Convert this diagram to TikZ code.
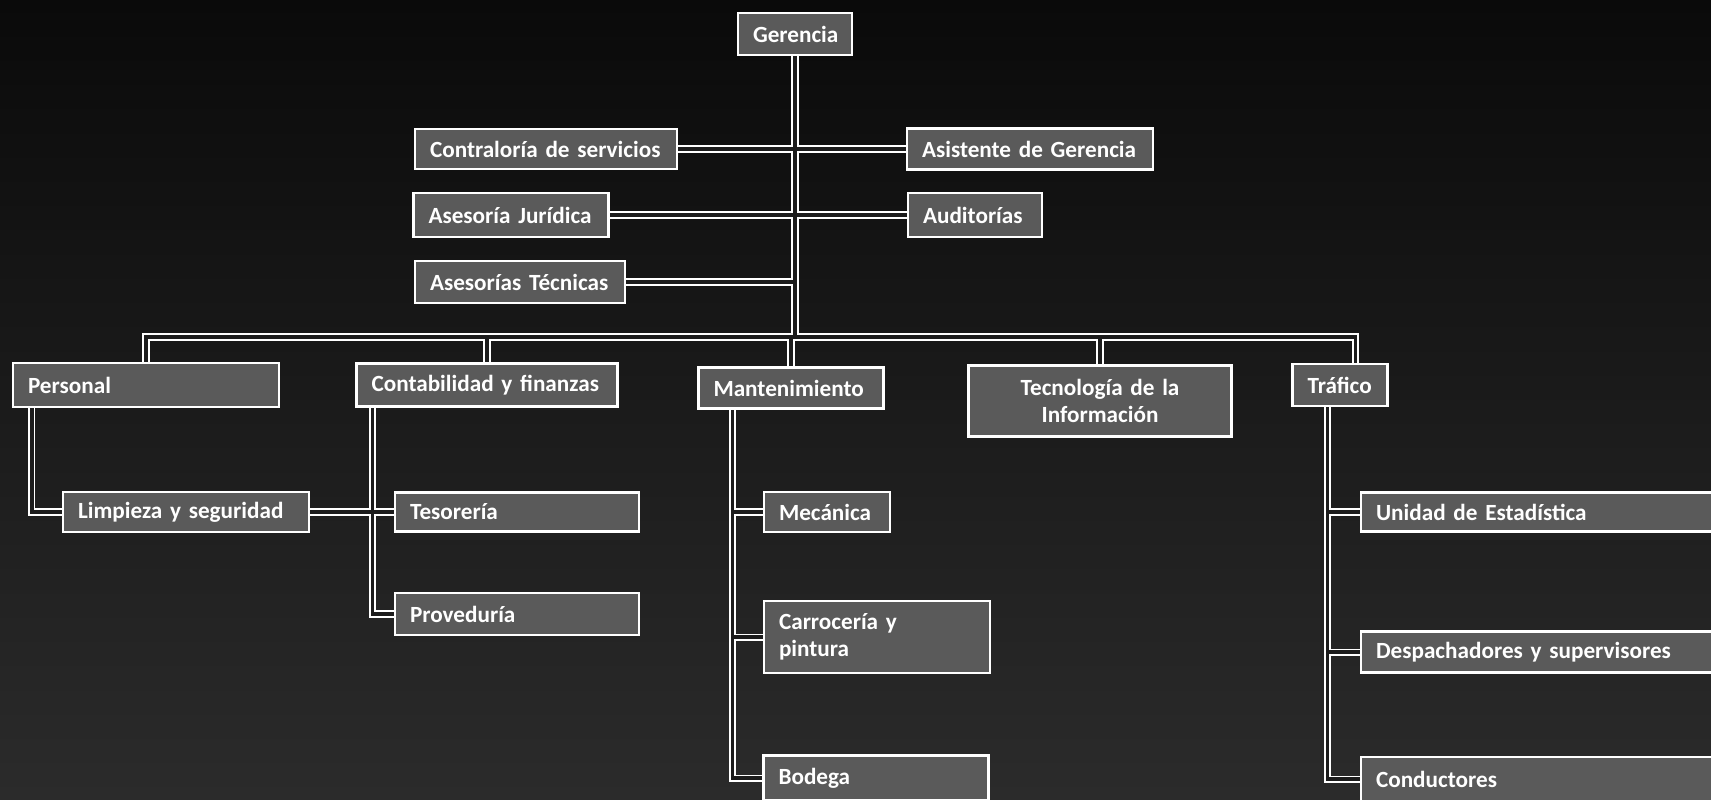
\documentclass[tikz,border=0pt]{standalone}
\usepackage{fontspec}
\setmainfont{Carlito}
\usepackage{tikz}
\pgfdeclarelayer{bg}
\pgfdeclarelayer{lines}
\pgfsetlayers{bg,lines,main}
\definecolor{bgtop}{HTML}{0A0A0A}
\definecolor{bgbot}{HTML}{2B2B2B}
\definecolor{boxgray}{HTML}{5A5A5A}
\definecolor{linkgap}{HTML}{1C1C1C}
\newcommand{\unitfont}{\fontsize{13.2}{15.5}\selectfont\bfseries\setlength{\spaceskip}{0.17em}}

\begin{document}
\begin{tikzpicture}[x=0.02cm, y=-0.02cm,
        unit/.style={draw=white, fill=boxgray, line width=1.2pt, text=white,
            font=\unitfont, inner xsep=0.3cm, inner ysep=0pt, align=left},
        link/.style={draw=white, line width=1.1pt, double=linkgap, double distance=1.8pt}]
        \useasboundingbox (0,0) rectangle (1711,799);
        \begin{pgfonlayer}{bg}
        \shade [top color=bgtop, bottom color=bgbot] (0,0) rectangle (1711,799);
        \end{pgfonlayer}
        \node[unit, text width=1.68cm, align=center, minimum height=0.84cm] (ger) at (795,34) {Gerencia};
        \node[unit, text width=4.64cm, minimum height=0.8cm] (contr) at (546,149) {Contraloría de servicios};
        \node[unit, text width=4.32cm, minimum height=0.82cm] (asis) at (1030,149) {Asistente de Gerencia};
        \node[unit, text width=3.3cm, minimum height=0.88cm] (jur) at (511,215) {Asesoría Jurídica};
        \node[unit, text width=2.08cm, minimum height=0.88cm] (aud) at (975,215) {Auditorías};
        \node[unit, text width=3.6cm, minimum height=0.84cm] (tec) at (520,282) {Asesorías Técnicas};
        \coordinate (bus) at (795,337);
        \node[unit, text width=4.72cm, minimum height=0.88cm] (pers) at (146,385) {Personal};
        \node[unit, text width=4.62cm, minimum height=0.86cm] (cont) at (487,385) {Contabilidad y finanzas};
        \node[unit, text width=3.1cm, minimum height=0.82cm] (mant) at (791,388) {Mantenimiento};
        \node[unit, text width=4.66cm, align=center, minimum height=1.42cm] (tic) at (1100,401) {Tecnología de la\\Información};
        \node[unit, text width=1.3cm, minimum height=0.84cm] (traf) at (1340,385) {Tráfico};
        \node[unit, text width=4.32cm, minimum height=0.8cm] (limp) at (186,512) {Limpieza y seguridad};
        \node[unit, text width=4.28cm, minimum height=0.78cm] (teso) at (517,512) {Tesorería};
        \node[unit, text width=4.28cm, minimum height=0.84cm] (prov) at (517,614) {Proveduría};
        \node[unit, text width=1.92cm, minimum height=0.8cm] (meca) at (827,512) {Mecánica};
        \node[unit, text width=3.92cm, minimum height=1.44cm] (carr) at (877,637) {Carrocería y\\pintura};
        \node[unit, text width=3.9cm, minimum height=0.9cm] (bod) at (876,778) {Bodega};
        \node[unit, text width=6.48cm, minimum height=0.78cm] (unid) at (1538,512) {Unidad de Estadística};
        \node[unit, text width=6.48cm, minimum height=0.82cm] (desp) at (1538,652) {Despachadores y supervisores};
        \node[unit, text width=6.48cm, minimum height=0.88cm] (cond) at (1538,779) {Conductores};
        \coordinate (trafin) at ([xshift=0.31cm]traf.north);
        \coordinate (persdn) at ([xshift=0.4cm]pers.south west);
        \coordinate (contdn) at ([xshift=0.34cm]cont.south west);
        \coordinate (mantdn) at ([xshift=0.7cm]mant.south west);
        \coordinate (trafdn) at ([xshift=0.72cm]traf.south west);
        \begin{pgfonlayer}{lines}
        \draw[link] (ger) -- (ger |- bus)
            (contr) -- (contr -| ger) (asis) -- (asis -| ger)
            (jur) -- (jur -| ger) (aud) -- (aud -| ger)
            (tec) -- (tec -| ger)
            (pers) |- (bus -| trafin) -- (trafin)
            (cont) -- (cont |- bus) (mant) -- (mant |- bus) (tic) -- (tic |- bus);
        \draw[link] (persdn) |- (limp);
        \draw[link] (contdn) |- (prov) (limp) -- (teso);
        \draw[link] (mantdn) |- (bod) (mantdn |- meca) -- (meca) (mantdn |- carr) -- (carr);
        \draw[link] (trafdn) |- (cond) (trafdn |- unid) -- (unid) (trafdn |- desp) -- (desp);
        \end{pgfonlayer}
\end{tikzpicture}
\end{document}
